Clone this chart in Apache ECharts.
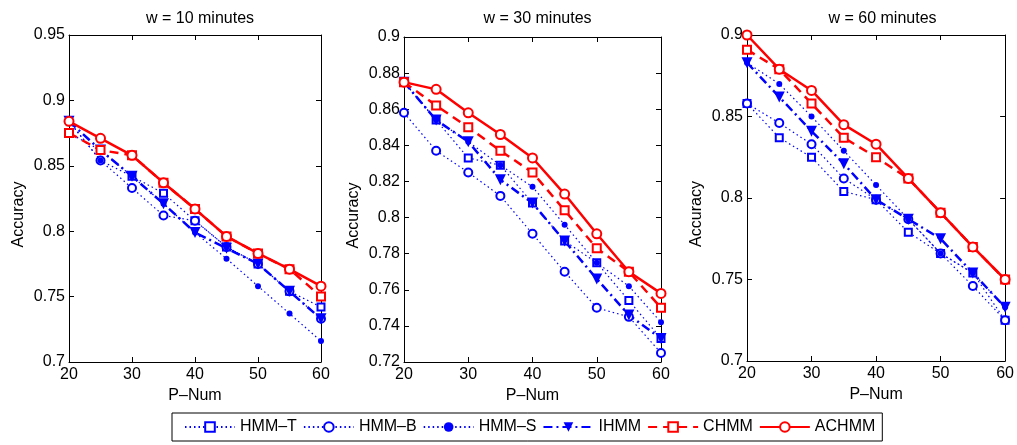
<!DOCTYPE html>
<html>
<head>
<meta charset="utf-8">
<script src="https://cdn.jsdelivr.net/npm/echarts@6/dist/echarts.min.js"></script>
<style>
	html, body { margin: 0; padding: 0; background: #fff; }
	#chart { width: 1017px; height: 445px; }
</style>
</head>
<body>
<div id="chart"></div>
<script>
//x축 값 (P-Num)
const pNum = [20, 25, 30, 35, 40, 45, 50, 55, 60];

//w = 10 minutes
const hmmT10  = [0.875, 0.862, 0.842, 0.829, 0.808, 0.788, 0.775, 0.754, 0.742];
const hmmB10  = [0.884, 0.854, 0.833, 0.812, 0.808, 0.788, 0.775, 0.754, 0.733];
const hmmS10  = [0.884, 0.854, 0.842, 0.821, 0.799, 0.779, 0.758, 0.737, 0.716];
const ihmm10  = [0.884, 0.862, 0.842, 0.821, 0.799, 0.787, 0.775, 0.754, 0.733];
const chmm10  = [0.875, 0.862, 0.858, 0.837, 0.817, 0.796, 0.783, 0.771, 0.750];
const achmm10 = [0.884, 0.871, 0.858, 0.837, 0.817, 0.796, 0.783, 0.771, 0.758];

//w = 30 minutes
const hmmT30  = [0.875, 0.854, 0.833, 0.829, 0.808, 0.787, 0.775, 0.754, 0.733];
const hmmB30  = [0.858, 0.837, 0.825, 0.812, 0.791, 0.770, 0.750, 0.745, 0.725];
const hmmS30  = [0.875, 0.854, 0.842, 0.829, 0.817, 0.796, 0.775, 0.762, 0.742];
const ihmm30  = [0.875, 0.854, 0.842, 0.821, 0.808, 0.787, 0.766, 0.746, 0.733];
const chmm30  = [0.875, 0.862, 0.850, 0.837, 0.825, 0.804, 0.783, 0.770, 0.750];
const achmm30 = [0.875, 0.871, 0.858, 0.846, 0.833, 0.813, 0.791, 0.770, 0.758];

//w = 60 minutes
const hmmT60  = [0.858, 0.837, 0.825, 0.804, 0.799, 0.779, 0.766, 0.754, 0.725];
const hmmB60  = [0.858, 0.846, 0.833, 0.812, 0.799, 0.787, 0.766, 0.746, 0.725];
const hmmS60  = [0.883, 0.870, 0.850, 0.829, 0.808, 0.787, 0.766, 0.754, 0.733];
const ihmm60  = [0.883, 0.862, 0.841, 0.821, 0.799, 0.787, 0.775, 0.754, 0.733];
const chmm60  = [0.891, 0.879, 0.858, 0.837, 0.825, 0.812, 0.791, 0.770, 0.750];
const achmm60 = [0.900, 0.879, 0.866, 0.845, 0.833, 0.812, 0.791, 0.770, 0.750];

const seriesNames = ['HMM–T', 'HMM–B', 'HMM–S', 'IHMM', 'CHMM', 'ACHMM'];
const panelTitles = ['w = 10 minutes', 'w = 30 minutes', 'w = 60 minutes'];
const panelData = [
	[hmmT10, hmmB10, hmmS10, ihmm10, chmm10, achmm10],
	[hmmT30, hmmB30, hmmS30, ihmm30, chmm30, achmm30],
	[hmmT60, hmmB60, hmmS60, ihmm60, chmm60, achmm60]
];

//y축 범위
const yMin      = [0.7, 0.72, 0.7];
const yMax      = [0.95, 0.9, 0.9];
const yInterval = [0.05, 0.02, 0.05];

//그리드 위치
const grids = [
	{ left: 69,  top: 35, width: 252, height: 327 },
	{ left: 404, top: 37, width: 257, height: 325 },
	{ left: 747, top: 35, width: 261, height: 326 }
];

const FONT = 'Liberation Sans, Arial, sans-serif';
const BLUE = '#0000ff';
const RED  = '#ff0000';

//시리즈별 선/마커 스타일
const styles = [
	{ color: BLUE, type: [1.5, 3],     width: 1.2, symbol: 'emptyRect',   size: 7,  border: 2.5 },
	{ color: BLUE, type: [1.5, 3],     width: 1.2, symbol: 'emptyCircle', size: 8,  border: 2.5 },
	{ color: BLUE, type: [1.5, 3],     width: 1.2, symbol: 'circle',      size: 6,  border: 0 },
	{ color: BLUE, type: [9, 4, 2, 4], width: 2.5, symbol: 'triangle',    size: 11, border: 0, rotate: 180 },
	{ color: RED,  type: [9, 6],       width: 2.5, symbol: 'emptyRect',   size: 8,  border: 3 },
	{ color: RED,  type: 'solid',      width: 2.5, symbol: 'emptyCircle', size: 9,  border: 3 }
];

function makeAxes(i) {
	const tick  = { show: true, inside: true, length: 5, lineStyle: { color: '#000' } };
	const line  = { show: true, lineStyle: { color: '#000', width: 1 } };
	const label = { color: '#000', fontSize: 16, fontFamily: FONT };

	const xAxes = [
		{
			gridIndex: i, type: 'value', position: 'bottom',
			min: 20, max: 60, interval: 10,
			axisLine: line, axisTick: tick, splitLine: { show: false },
			axisLabel: Object.assign({ margin: 5 }, label),
			name: 'P–Num', nameLocation: 'middle', nameGap: 22,
			nameTextStyle: { color: '#000', fontSize: 16, fontFamily: FONT }
		},
		{
			gridIndex: i, type: 'value', position: 'top',
			min: 20, max: 60, interval: 10,
			axisLine: line, axisTick: tick, splitLine: { show: false },
			axisLabel: { show: false }
		}
	];

	const yAxes = [
		{
			gridIndex: i, type: 'value', position: 'left',
			min: yMin[i], max: yMax[i], interval: yInterval[i],
			axisLine: line, axisTick: tick, splitLine: { show: false },
			axisLabel: Object.assign({ margin: 4 }, label),
			name: 'Accuracy', nameLocation: 'middle', nameGap: 42, nameRotate: 90,
			nameTextStyle: { color: '#000', fontSize: 16, fontFamily: FONT, padding: [0, 32, 0, 0] }
		},
		{
			gridIndex: i, type: 'value', position: 'right',
			min: yMin[i], max: yMax[i], interval: yInterval[i],
			axisLine: line, axisTick: tick, splitLine: { show: false },
			axisLabel: { show: false }
		}
	];

	return { xAxes, yAxes };
}

function drawChart() {
	const myChart = echarts.init(document.getElementById('chart'));

	let xAxis = [], yAxis = [], title = [], series = [];

	grids.forEach((g, i) => {
		const axes = makeAxes(i);
		xAxis = xAxis.concat(axes.xAxes);
		yAxis = yAxis.concat(axes.yAxes);

		title.push({
			text: panelTitles[i],
			left: g.left + g.width / 2,
			top: 6,
			textAlign: 'center',
			textStyle: { color: '#000', fontSize: 16, fontWeight: 'normal', fontFamily: FONT }
		});

		panelData[i].forEach((values, k) => {
			const s = styles[k];
			series.push({
				name: seriesNames[k],
				type: 'line',
				xAxisIndex: i * 2,
				yAxisIndex: i * 2,
				data: pNum.map((x, j) => [x, values[j]]),
				symbol: s.symbol,
				symbolSize: s.size,
				symbolRotate: s.rotate || 0,
				showAllSymbol: true,
				lineStyle: { color: s.color, width: s.width, type: s.type },
				itemStyle: { color: s.color, borderColor: s.color, borderWidth: s.border },
				emphasis: { disabled: true },
				animation: false
			});
		});
	});

	const option = {
		backgroundColor: '#fff',
		animation: false,
		title: title,
		grid: grids.map(g => Object.assign({ show: false, containLabel: false }, g)),
		xAxis: xAxis,
		yAxis: yAxis,
		legend: {
			data: seriesNames,
			left: 172,
			top: 413,
			orient: 'horizontal',
			itemWidth: 50,
			itemHeight: 12,
			itemGap: 6,
			padding: [6, 7, 6, 12],
			borderColor: '#000',
			borderWidth: 1,
			textStyle: { color: '#000', fontSize: 16, fontFamily: FONT }
		},
		series: series
	};

	myChart.setOption(option);
}

drawChart();
</script>
</body>
</html>
